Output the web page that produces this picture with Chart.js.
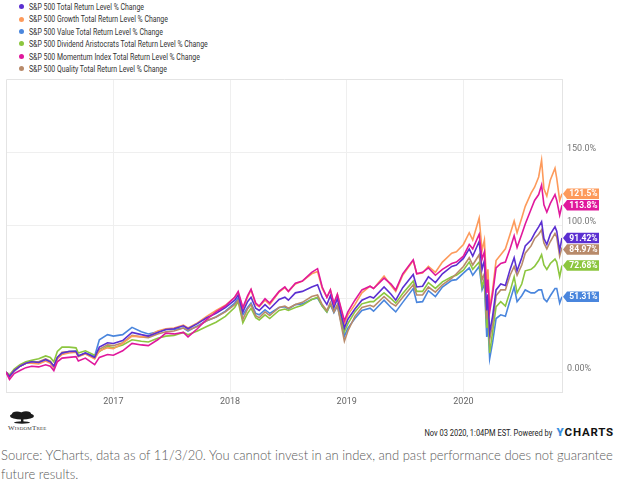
<!DOCTYPE html>
<html>
<head>
<meta charset="utf-8">
<script src="https://cdn.jsdelivr.net/npm/chart.js@4.4.1/dist/chart.umd.min.js"></script>
<style>
    html, body { margin: 0; padding: 0; background: #fff; }
    body { width: 629px; height: 492px; position: relative; overflow: hidden; font-family: Roboto, sans-serif; }
    #chartBox { position: absolute; left: 0; top: 0; }
    #legend { position: absolute; left: 19px; top: 1px; }
    #legend .row { height: 12.4px; line-height: 12.4px; font-size: 9px; color: #333; white-space: nowrap; }
    #legend .dot { display: inline-block; width: 5px; height: 5px; border-radius: 50%; margin-right: 5px; vertical-align: middle; position: relative; top: -1px; }
    #legend .txt { display: inline-block; transform: scaleX(0.77); transform-origin: left center; }
    #logo { position: absolute; left: 8px; top: 411px; }
    #logoText { position: absolute; left: 8px; top: 424px; font-family: "Liberation Serif", serif; font-size: 7px; font-variant: small-caps; color: #333; letter-spacing: 0.2px; }
    #stamp { position: absolute; right: 15px; top: 421px; white-space: nowrap; color: #222; }
    #stamp .when { display: inline-block; font-size: 8.5px; transform: scaleX(0.88); transform-origin: right center; }
    #stamp .brand { font-size: 11.5px; font-weight: bold; letter-spacing: 0.8px; color: #111; }
    #stamp .brand b { color: #3a8fe0; }
    #source { position: absolute; left: 1px; top: 446px; width: 628px; font-family: Lato, sans-serif; font-weight: 300; font-size: 13px; line-height: 19px; color: #5a5a5a; }
    #source div { white-space: nowrap; }
</style>
</head>
<body>
<div id="legend"></div>
<canvas id="chartBox" width="629" height="410"></canvas>
<svg id="logo" width="28" height="13" viewBox="0 0 28 13">
    <ellipse cx="14" cy="5" rx="12" ry="3.6" fill="#1a1a1a"/>
    <ellipse cx="9" cy="3.2" rx="5" ry="2.6" fill="#1a1a1a"/>
    <ellipse cx="18" cy="3" rx="5" ry="2.8" fill="#1a1a1a"/>
    <rect x="13" y="6" width="2.4" height="5" fill="#1a1a1a"/>
    <ellipse cx="14" cy="11.5" rx="8" ry="1.2" fill="#1a1a1a"/>
</svg>
<div id="logoText">WisdomTree</div>
<div id="stamp"><span class="when">Nov 03 2020, 1:04PM EST. Powered by</span> <span class="brand"><b>Y</b>CHARTS</span></div>
<div id="source"><div>Source: YCharts, data as of 11/3/20. You cannot invest in an index, and past performance does not guarantee</div><div>future results.</div></div>
<script>
(function () {
    'use strict';

    var seriesNames = [
        'S&P 500 Total Return Level % Change',
        'S&P 500 Growth Total Return Level % Change',
        'S&P 500 Value Total Return Level % Change',
        'S&P 500 Dividend Aristocrats Total Return Level % Change',
        'S&P 500 Momentum Index Total Return Level % Change',
        'S&P 500 Quality Total Return Level % Change'
    ];
    var seriesColors = ['#5b2fd1', '#fd9a5b', '#4a86dd', '#8cc63f', '#e0189c', '#b88a6a'];
    var drawOrder = [1, 2, 5, 4, 0, 3];

    // decimal years
    var dates = [2016.08, 2016.11, 2016.15, 2016.20, 2016.25, 2016.30, 2016.36, 2016.42, 2016.46, 2016.49,
        2016.52, 2016.56, 2016.62, 2016.68, 2016.70, 2016.76, 2016.84, 2016.88, 2016.95, 2017.00,
        2017.08, 2017.16, 2017.24, 2017.30, 2017.38, 2017.45, 2017.52, 2017.60, 2017.64, 2017.72,
        2017.80, 2017.88, 2017.96, 2018.04, 2018.07, 2018.11, 2018.15, 2018.18, 2018.22, 2018.25,
        2018.30, 2018.34, 2018.42, 2018.47, 2018.50, 2018.56, 2018.62, 2018.70, 2018.75, 2018.79,
        2018.83, 2018.86, 2018.89, 2018.92, 2018.98, 2019.01, 2019.07, 2019.13, 2019.20, 2019.23,
        2019.32, 2019.38, 2019.42, 2019.48, 2019.57, 2019.60, 2019.65, 2019.70, 2019.76, 2019.82,
        2019.90, 2019.94, 2020.00, 2020.05, 2020.08, 2020.135, 2020.16, 2020.18, 2020.20, 2020.21,
        2020.225, 2020.25, 2020.28, 2020.32, 2020.36, 2020.40, 2020.435, 2020.46, 2020.50, 2020.53,
        2020.58, 2020.61, 2020.645, 2020.67, 2020.69, 2020.715, 2020.745, 2020.785, 2020.80, 2020.825,
        2020.845];

    var totalReturn = [0, -3, 1, 4, 6, 7, 6.5, 8.5, 7, 4,
        10, 13, 14, 14, 11, 13, 10, 17, 20, 19.5,
        21.5, 27, 25.5, 24.5, 27, 29, 29.5, 31.5, 29.5, 33,
        37, 40, 44, 49, 52.5, 41, 48, 51, 43.5, 42,
        46, 43, 49.5, 51, 49, 54, 55, 58, 59.5, 51,
        46, 52, 44, 50, 30, 36, 43, 49, 51.5, 50.5,
        58, 53, 49, 57.5, 66.5, 58, 58.5, 65, 61, 67,
        72, 73, 77.5, 84, 79, 89, 70, 76, 42, 53,
        27, 38, 56, 60, 59, 70, 78, 69, 78, 86,
        90, 94.5, 99, 102.5, 91, 87, 94, 99, 96, 83,
        91.42];

    var growthReturn = [0, -3.5, 1, 4, 6, 6, 5.5, 7.5, 6, 3,
        9, 12, 13, 13.5, 10.5, 12.5, 9, 14.5, 16.5, 16,
        19.5, 24.5, 24, 24.5, 28, 29.5, 30, 32, 30, 33.5,
        38, 42, 45.5, 51, 54, 43, 51, 56, 46, 44.5,
        49, 46, 54.5, 57.5, 55, 60, 62, 67, 68.5, 57,
        51, 56, 46, 53, 33, 39, 46, 54, 58.5, 57,
        65.5, 59, 55, 66, 76, 67, 67.5, 72, 68, 75,
        81, 82, 87, 95, 90, 105, 83, 90, 59, 70,
        44, 56, 76, 80, 84, 94, 103, 95, 105, 113,
        122, 126, 133, 144.5, 125, 120, 131, 139, 132, 117,
        121.5];

    var valueReturn = [0, -3, 0.5, 4, 6, 7.5, 6.5, 8.5, 6.5, 3,
        9.5, 12.5, 14, 14.5, 11, 13, 11, 22, 25.5, 24.5,
        25.5, 30.5, 27.5, 26, 27.5, 29, 29, 30, 28, 31.5,
        35, 37.5, 41.5, 47, 50.5, 39, 44, 47, 40, 39,
        42.5, 40, 44, 44.5, 43, 46, 46.5, 49.5, 50.5, 45,
        41, 46, 40.5, 45, 24.5, 30, 36.5, 42, 43.5, 41.5,
        49, 44, 41, 47.5, 57, 47.5, 48, 55.5, 51.5, 58,
        62.5, 63, 67.5, 71, 66, 72, 56, 60, 24, 33,
        9, 20, 36.5, 39, 38, 49, 58, 48, 52, 56,
        54, 54, 56, 56, 50, 48, 52, 57, 57, 47,
        51.31];

    var aristocratsReturn = [0, -2, 2, 5, 7, 8, 9, 11, 10, 7,
        14, 17, 17, 16.5, 13, 14.5, 11.5, 14, 17.5, 16.5,
        18.5, 22, 21, 20.5, 23, 24.5, 25, 27, 25.5, 28,
        31, 34, 38, 44, 48, 33.5, 40, 43.5, 37, 35.5,
        39, 36.5, 42, 43, 42, 44, 45.5, 49.5, 51, 45,
        41, 46.5, 41.5, 46, 27.5, 33, 41, 46.5, 48, 48,
        54, 50, 47, 53.5, 62, 55, 55, 61, 57, 61.5,
        65, 66, 69.5, 75, 70, 75, 58, 64, 30, 40,
        13, 27, 44.5, 48, 45, 55, 65, 54, 60, 69,
        70, 72, 76, 80, 73, 70, 74, 77, 75, 65,
        72.68];

    var momentumReturn = [0, -5, -1, 1, 3, 4, 3.5, 5, 4, 1,
        7, 9.5, 10, 10.5, 7.5, 9.5, 5, 10, 12, 11.5,
        14.5, 19.5, 18.5, 18, 22, 26.5, 26, 27, 24, 29.5,
        36, 41, 45, 51, 55, 44, 52, 56.5, 47, 45,
        50, 47, 55, 58, 55, 60.5, 62, 68, 70.5, 58,
        51, 56, 47, 53, 35, 41, 49, 56, 58.5, 57,
        64, 60, 56, 67, 76.5, 67, 68, 71, 66, 70,
        74, 75, 79, 87, 84, 94, 77, 82, 54, 63,
        41, 53, 71, 74, 75, 84, 93, 85, 94, 101,
        111, 117, 121, 127.5, 114, 109, 115, 121, 117, 107,
        113.8];

    var qualityReturn = [0, -3, 1, 4, 6, 7, 7, 9, 7.5, 4,
        10, 13.5, 14, 14, 11, 12.5, 9.5, 15.5, 18.5, 18,
        20, 25, 24, 23.5, 26, 27.5, 28, 30, 28.5, 31,
        35, 37.5, 41, 46, 49, 36, 43, 46, 38.5, 37,
        41, 38.5, 44, 45, 43.5, 46, 47.5, 51.5, 52.5, 46,
        42, 47.5, 41, 45.5, 21, 28, 38, 44, 45.5, 44.5,
        51.5, 47, 45, 51, 59.5, 52.5, 52.5, 58, 54.5, 59.5,
        64, 67, 72, 78, 73, 80, 63, 67, 36, 46,
        22, 33, 52, 56, 56, 66, 72, 66, 73, 81,
        86, 91, 94, 97, 88, 84, 89, 94.5, 92, 79,
        84.97];

    var xTickValues = [2017, 2018, 2019, 2020];
    var yTickValues = [0, 50, 100, 150];
    var yTickLabels = ['0.00%', '', '100.0%', '150.0%'];

    var allSeries = [totalReturn, growthReturn, valueReturn, aristocratsReturn, momentumReturn, qualityReturn];

    // html legend
    var legendBox = document.getElementById('legend');
    seriesNames.forEach(function (name, i) {
        var row = document.createElement('div');
        row.className = 'row';
        var dot = document.createElement('span');
        dot.className = 'dot';
        dot.style.background = seriesColors[i];
        var txt = document.createElement('span');
        txt.className = 'txt';
        txt.textContent = name;
        row.appendChild(dot);
        row.appendChild(txt);
        legendBox.appendChild(row);
    });

    var plotFrame = {
        id: 'plotFrame',
        beforeDatasetsDraw: function (chart) {
            var ctx = chart.ctx;
            var area = chart.chartArea;
            ctx.save();
            ctx.strokeStyle = '#e4e4e4';
            ctx.lineWidth = 1;
            ctx.beginPath();
            ctx.moveTo(Math.round(area.left) + 0.5, area.bottom);
            ctx.lineTo(Math.round(area.left) + 0.5, Math.round(area.top) + 0.5);
            ctx.lineTo(area.right, Math.round(area.top) + 0.5);
            ctx.stroke();
            ctx.restore();
        }
    };

    var lastValueFlags = {
        id: 'lastValueFlags',
        afterDraw: function (chart) {
            var ctx = chart.ctx;
            var yScale = chart.scales.y;
            var right = chart.chartArea.right;
            var flags = chart.data.datasets.map(function (ds) {
                var v = ds.data[ds.data.length - 1].y;
                return { y: yScale.getPixelForValue(v), text: v.toPrecision(4) + '%', color: ds.borderColor };
            }).sort(function (a, b) { return a.y - b.y; });
            for (var i = 1; i < flags.length; i++) {
                if (flags[i].y - flags[i - 1].y < 11.5) {
                    flags[i].y = flags[i - 1].y + 11.5;
                }
            }
            ctx.save();
            ctx.font = 'bold 8.5px Roboto, sans-serif';
            ctx.textBaseline = 'middle';
            ctx.textAlign = 'center';
            flags.forEach(function (f) {
                var h = 10.5;
                ctx.fillStyle = f.color;
                ctx.beginPath();
                ctx.moveTo(right + 1, f.y);
                ctx.lineTo(right + 5, f.y - h / 2);
                ctx.lineTo(right + 37, f.y - h / 2);
                ctx.lineTo(right + 37, f.y + h / 2);
                ctx.lineTo(right + 5, f.y + h / 2);
                ctx.closePath();
                ctx.fill();
                ctx.fillStyle = '#fff';
                ctx.fillText(f.text, right + 21.5, f.y + 0.5);
            });
            ctx.restore();
        }
    };

    new Chart(document.getElementById('chartBox'), {
        type: 'line',
        data: {
            datasets: allSeries.map(function (values, i) {
                return {
                    label: seriesNames[i],
                    data: dates.map(function (d, j) { return { x: d, y: values[j] }; }),
                    borderColor: seriesColors[i],
                    backgroundColor: seriesColors[i],
                    borderWidth: 1.6,
                    pointRadius: 0,
                    tension: 0,
                    order: drawOrder[i]
                };
            })
        },
        options: {
            responsive: false,
            animation: false,
            devicePixelRatio: 1,
            layout: {
                padding: { top: 79, left: 6, right: 0, bottom: 0 }
            },
            plugins: {
                legend: { display: false },
                tooltip: { enabled: false }
            },
            scales: {
                x: {
                    type: 'linear',
                    min: 2016.08,
                    max: 2020.845,
                    afterBuildTicks: function (scale) {
                        scale.ticks = xTickValues.map(function (v) { return { value: v }; });
                    },
                    afterFit: function (scale) { scale.height = 18; },
                    grid: { color: '#efefef', drawTicks: false },
                    border: { display: true, color: '#e4e4e4' },
                    ticks: {
                        color: '#666',
                        padding: 4,
                        maxRotation: 0,
                        font: { family: 'Roboto', size: 9 },
                        callback: function (value) { return String(value); }
                    }
                },
                y: {
                    position: 'right',
                    min: -13.6,
                    max: 199.8,
                    afterBuildTicks: function (scale) {
                        scale.ticks = yTickValues.map(function (v) { return { value: v }; });
                    },
                    afterFit: function (scale) { scale.width = 67; },
                    grid: { color: '#efefef', drawTicks: false },
                    border: { display: true, color: '#e4e4e4' },
                    ticks: {
                        color: '#777',
                        padding: 5,
                        labelOffset: -3.5,
                        font: { family: 'Roboto', size: 9 },
                        callback: function (value) {
                            var idx = yTickValues.indexOf(value);
                            return idx >= 0 ? yTickLabels[idx] : '';
                        }
                    }
                }
            }
        },
        plugins: [plotFrame, lastValueFlags]
    });
})();
</script>
</body>
</html>
